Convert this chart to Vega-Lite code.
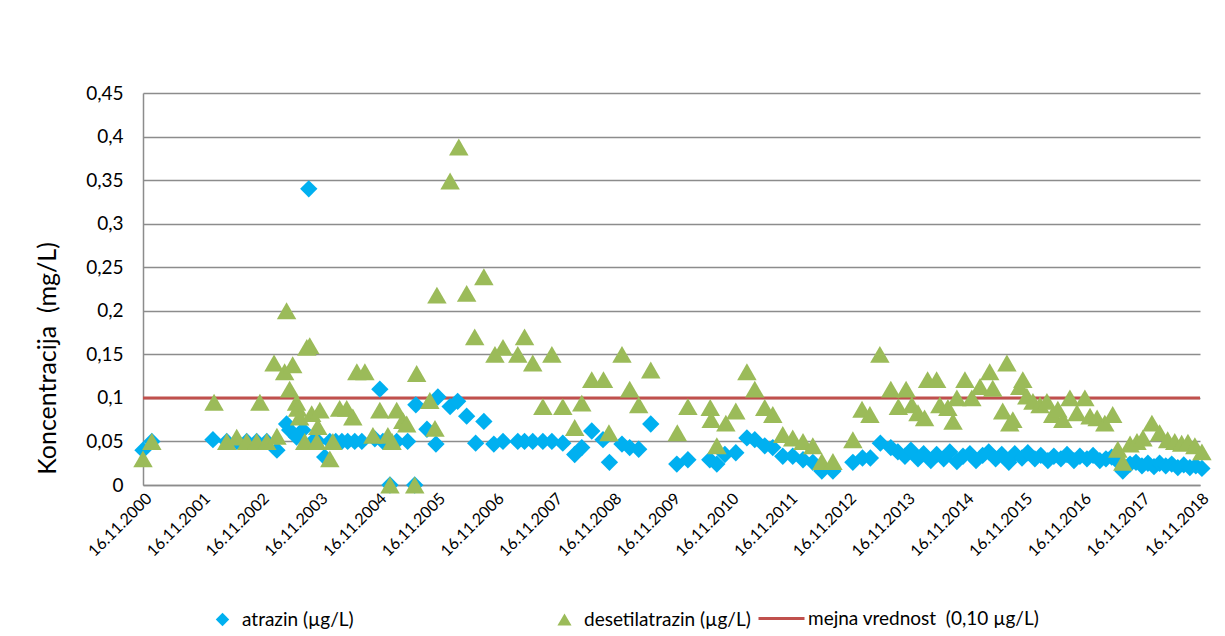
{
  "$schema": "https://vega.github.io/schema/vega-lite/v6.json",
  "width": 1057,
  "height": 392,
  "autosize": {"type": "none"},
  "padding": {"left": 143, "top": 93, "right": 25, "bottom": 151},
  "background": "white",
  "config": {"font": "Lato", "view": {"stroke": null}},
  "datasets": {
    "atrazin": [
      {"d":"2000-11-16","v":0.04},{"d":"2001-01-10","v":0.05},{"d":"2002-01-25","v":0.052},{"d":"2002-04-21","v":0.05},{"d":"2002-06-22","v":0.05},{"d":"2002-08-23","v":0.05},{"d":"2002-10-24","v":0.05},{"d":"2002-12-26","v":0.05},{"d":"2003-02-27","v":0.04},{"d":"2003-04-28","v":0.07},{"d":"2003-05-17","v":0.063},{"d":"2003-06-29","v":0.055},{"d":"2003-08-07","v":0.063},{"d":"2003-09-13","v":0.34},{"d":"2003-10-08","v":0.05},{"d":"2003-11-08","v":0.05},{"d":"2003-12-21","v":0.032},{"d":"2004-01-22","v":0.05},{"d":"2004-02-28","v":0.05},{"d":"2004-04-06","v":0.05},{"d":"2004-05-12","v":0.05},{"d":"2004-06-25","v":0.05},{"d":"2004-08-08","v":0.05},{"d":"2004-10-28","v":0.053},{"d":"2004-11-28","v":0.11},{"d":"2004-12-17","v":0.05},{"d":"2005-01-30","v":0.0},{"d":"2005-03-13","v":0.05},{"d":"2005-05-20","v":0.05},{"d":"2005-07-03","v":0.0},{"d":"2005-07-10","v":0.092},{"d":"2005-09-17","v":0.064},{"d":"2005-11-12","v":0.047},{"d":"2005-11-24","v":0.101},{"d":"2006-02-08","v":0.09},{"d":"2006-03-27","v":0.096},{"d":"2006-05-22","v":0.079},{"d":"2006-07-17","v":0.048},{"d":"2006-09-06","v":0.073},{"d":"2006-11-07","v":0.047},{"d":"2007-01-03","v":0.05},{"d":"2007-04-05","v":0.05},{"d":"2007-05-17","v":0.05},{"d":"2007-07-07","v":0.05},{"d":"2007-09-08","v":0.05},{"d":"2007-11-03","v":0.05},{"d":"2008-01-10","v":0.048},{"d":"2008-03-24","v":0.035},{"d":"2008-05-07","v":0.043},{"d":"2008-07-08","v":0.062},{"d":"2008-09-16","v":0.052},{"d":"2008-10-26","v":0.026},{"d":"2009-01-12","v":0.047},{"d":"2009-03-01","v":0.043},{"d":"2009-04-26","v":0.041},{"d":"2009-07-10","v":0.07},{"d":"2009-12-19","v":0.024},{"d":"2010-02-26","v":0.029},{"d":"2010-07-12","v":0.029},{"d":"2010-08-25","v":0.024},{"d":"2010-10-14","v":0.035},{"d":"2010-12-21","v":0.037},{"d":"2011-02-28","v":0.054},{"d":"2011-04-18","v":0.052},{"d":"2011-06-19","v":0.045},{"d":"2011-08-08","v":0.043},{"d":"2011-10-09","v":0.033},{"d":"2011-12-10","v":0.033},{"d":"2012-02-12","v":0.029},{"d":"2012-04-13","v":0.026},{"d":"2012-06-08","v":0.016},{"d":"2012-08-16","v":0.016},{"d":"2012-12-18","v":0.026},{"d":"2013-02-16","v":0.031},{"d":"2013-04-06","v":0.031},{"d":"2013-06-07","v":0.048},{"d":"2013-08-11","v":0.043},{"d":"2013-09-24","v":0.038},{"d":"2013-11-07","v":0.033},{"d":"2013-12-14","v":0.04},{"d":"2014-01-27","v":0.03},{"d":"2014-03-03","v":0.036},{"d":"2014-04-17","v":0.028},{"d":"2014-05-23","v":0.035},{"d":"2014-07-06","v":0.03},{"d":"2014-08-13","v":0.038},{"d":"2014-09-26","v":0.027},{"d":"2014-11-03","v":0.033},{"d":"2014-12-16","v":0.036},{"d":"2015-01-23","v":0.028},{"d":"2015-03-05","v":0.034},{"d":"2015-04-12","v":0.038},{"d":"2015-05-25","v":0.03},{"d":"2015-07-02","v":0.035},{"d":"2015-08-15","v":0.026},{"d":"2015-09-21","v":0.036},{"d":"2015-11-05","v":0.031},{"d":"2015-12-11","v":0.037},{"d":"2016-01-24","v":0.03},{"d":"2016-03-01","v":0.034},{"d":"2016-04-14","v":0.028},{"d":"2016-05-21","v":0.033},{"d":"2016-07-04","v":0.03},{"d":"2016-08-11","v":0.035},{"d":"2016-09-23","v":0.028},{"d":"2016-10-30","v":0.033},{"d":"2016-12-13","v":0.03},{"d":"2017-01-20","v":0.034},{"d":"2017-03-03","v":0.028},{"d":"2017-04-10","v":0.03},{"d":"2017-05-16","v":0.032},{"d":"2017-06-23","v":0.027},{"d":"2017-07-24","v":0.016},{"d":"2017-09-07","v":0.024},{"d":"2017-10-14","v":0.026},{"d":"2017-11-20","v":0.022},{"d":"2017-12-27","v":0.025},{"d":"2018-02-03","v":0.021},{"d":"2018-03-10","v":0.025},{"d":"2018-04-17","v":0.022},{"d":"2018-05-24","v":0.024},{"d":"2018-07-01","v":0.02},{"d":"2018-08-07","v":0.023},{"d":"2018-09-14","v":0.02},{"d":"2018-10-21","v":0.022},{"d":"2018-11-28","v":0.019}
    ],
    "desetil": [
      {"d":"2000-11-16","v":0.03},{"d":"2001-01-10","v":0.05},{"d":"2002-02-01","v":0.095},{"d":"2002-04-21","v":0.05},{"d":"2002-06-22","v":0.055},{"d":"2002-08-23","v":0.05},{"d":"2002-10-24","v":0.05},{"d":"2002-11-13","v":0.095},{"d":"2002-12-26","v":0.05},{"d":"2003-02-09","v":0.14},{"d":"2003-02-27","v":0.056},{"d":"2003-04-16","v":0.13},{"d":"2003-04-28","v":0.2},{"d":"2003-05-17","v":0.11},{"d":"2003-06-05","v":0.138},{"d":"2003-06-29","v":0.095},{"d":"2003-07-06","v":0.088},{"d":"2003-07-18","v":0.078},{"d":"2003-08-19","v":0.05},{"d":"2003-09-01","v":0.158},{"d":"2003-09-19","v":0.16},{"d":"2003-10-01","v":0.082},{"d":"2003-11-02","v":0.05},{"d":"2003-11-08","v":0.067},{"d":"2003-11-21","v":0.086},{"d":"2004-01-22","v":0.03},{"d":"2004-02-10","v":0.05},{"d":"2004-03-23","v":0.088},{"d":"2004-05-06","v":0.088},{"d":"2004-06-13","v":0.078},{"d":"2004-07-08","v":0.13},{"d":"2004-08-27","v":0.13},{"d":"2004-10-16","v":0.057},{"d":"2004-11-28","v":0.086},{"d":"2005-01-17","v":0.057},{"d":"2005-01-30","v":0.0},{"d":"2005-02-12","v":0.05},{"d":"2005-03-13","v":0.086},{"d":"2005-04-20","v":0.074},{"d":"2005-05-14","v":0.07},{"d":"2005-07-03","v":0.0},{"d":"2005-07-15","v":0.128},{"d":"2005-10-05","v":0.097},{"d":"2005-11-06","v":0.065},{"d":"2005-11-18","v":0.218},{"d":"2006-02-08","v":0.349},{"d":"2006-04-03","v":0.388},{"d":"2006-05-22","v":0.22},{"d":"2006-07-11","v":0.17},{"d":"2006-09-06","v":0.239},{"d":"2006-11-14","v":0.15},{"d":"2007-01-03","v":0.158},{"d":"2007-04-05","v":0.15},{"d":"2007-05-17","v":0.17},{"d":"2007-07-07","v":0.14},{"d":"2007-09-08","v":0.09},{"d":"2007-11-03","v":0.15},{"d":"2008-01-10","v":0.09},{"d":"2008-03-24","v":0.066},{"d":"2008-05-07","v":0.094},{"d":"2008-07-08","v":0.121},{"d":"2008-09-19","v":0.121},{"d":"2008-10-23","v":0.06},{"d":"2009-01-12","v":0.15},{"d":"2009-03-01","v":0.11},{"d":"2009-04-26","v":0.092},{"d":"2009-07-10","v":0.132},{"d":"2009-12-22","v":0.06},{"d":"2010-02-26","v":0.09},{"d":"2010-07-15","v":0.089},{"d":"2010-07-21","v":0.075},{"d":"2010-08-25","v":0.045},{"d":"2010-10-20","v":0.071},{"d":"2010-12-21","v":0.085},{"d":"2011-02-28","v":0.13},{"d":"2011-04-18","v":0.11},{"d":"2011-06-19","v":0.089},{"d":"2011-08-08","v":0.081},{"d":"2011-10-09","v":0.058},{"d":"2011-12-10","v":0.054},{"d":"2012-02-12","v":0.05},{"d":"2012-04-13","v":0.045},{"d":"2012-06-08","v":0.027},{"d":"2012-08-16","v":0.027},{"d":"2012-12-18","v":0.052},{"d":"2013-02-13","v":0.087},{"d":"2013-04-03","v":0.081},{"d":"2013-06-04","v":0.15},{"d":"2013-08-11","v":0.11},{"d":"2013-09-27","v":0.09},{"d":"2013-11-14","v":0.11},{"d":"2013-12-20","v":0.092},{"d":"2014-01-27","v":0.083},{"d":"2014-03-09","v":0.077},{"d":"2014-03-28","v":0.121},{"d":"2014-05-23","v":0.121},{"d":"2014-06-12","v":0.092},{"d":"2014-08-01","v":0.089},{"d":"2014-09-02","v":0.073},{"d":"2014-09-26","v":0.1},{"d":"2014-11-15","v":0.121},{"d":"2014-12-28","v":0.1},{"d":"2015-02-17","v":0.113},{"d":"2015-04-18","v":0.13},{"d":"2015-05-07","v":0.111},{"d":"2015-07-08","v":0.085},{"d":"2015-08-03","v":0.14},{"d":"2015-08-21","v":0.071},{"d":"2015-09-09","v":0.075},{"d":"2015-10-22","v":0.113},{"d":"2015-11-10","v":0.121},{"d":"2015-12-05","v":0.102},{"d":"2016-01-12","v":0.096},{"d":"2016-02-25","v":0.092},{"d":"2016-04-08","v":0.096},{"d":"2016-05-14","v":0.081},{"d":"2016-06-15","v":0.087},{"d":"2016-07-16","v":0.075},{"d":"2016-08-29","v":0.1},{"d":"2016-10-12","v":0.083},{"d":"2016-11-30","v":0.1},{"d":"2017-01-01","v":0.079},{"d":"2017-02-14","v":0.077},{"d":"2017-04-03","v":0.071},{"d":"2017-05-22","v":0.081},{"d":"2017-06-23","v":0.041},{"d":"2017-07-24","v":0.026},{"d":"2017-09-07","v":0.047},{"d":"2017-10-20","v":0.05},{"d":"2017-11-26","v":0.054},{"d":"2018-01-21","v":0.071},{"d":"2018-03-10","v":0.06},{"d":"2018-04-29","v":0.052},{"d":"2018-06-12","v":0.05},{"d":"2018-07-25","v":0.048},{"d":"2018-09-02","v":0.049},{"d":"2018-10-15","v":0.045},{"d":"2018-11-28","v":0.038}
    ]
  },
  "layer": [
    {
      "data": {"values": [{"series": "mejna vrednost \u00a0(0,10 µg/L)", "value": 0.1}]},
      "mark": {"type": "rule", "strokeWidth": 3},
      "encoding": {
        "y": {
          "field": "value", "type": "quantitative",
          "scale": {"domain": [0, 0.45], "nice": false, "zero": true},
          "axis": {
            "values": [0, 0.05, 0.1, 0.15, 0.2, 0.25, 0.3, 0.35, 0.4, 0.45],
            "labelExpr": "replace(format(datum.value, '.2~f'), '.', ',')",
            "grid": true, "gridColor": "#8c8c8c", "gridWidth": 1.5,
            "domainColor": "#8c8c8c", "domainWidth": 1.5,
            "ticks": false, "labelPadding": 20,
            "labelFontSize": 19, "labelColor": "#000000",
            "title": "Koncentracija \u00a0(mg/L)", "titleFontSize": 25, "titleFontWeight": "normal",
            "titleColor": "#000000", "titleAngle": 270, "titleX": -96, "titleY": 265,
            "titleAlign": "center", "titleBaseline": "middle"
          }
        },
        "color": {
          "field": "series", "type": "nominal",
          "scale": {"range": ["#C0504D"]},
          "legend": {
            "orient": "none", "legendX": 614, "legendY": 501, "title": null, "padding": 0,
            "symbolType": "stroke", "symbolSize": 2116, "symbolStrokeWidth": 3,
            "labelFontSize": 19, "labelColor": "#000000", "labelOffset": 2, "labelLimit": 500
          }
        }
      }
    },
    {
      "data": {"name": "atrazin"},
      "transform": [{"calculate": "'atrazin (µg/L)'", "as": "series"}],
      "mark": {"type": "point", "filled": true, "opacity": 1, "size": 300, "color": "#00B0F0", "strokeWidth": 0},
      "encoding": {
        "x": {
          "field": "d", "type": "temporal",
          "scale": {"type": "utc", "domain": [{"year": 2000, "month": 11, "date": 16, "utc": true}, {"year": 2018, "month": 11, "date": 16, "utc": true}]},
          "axis": {
            "values": [
              {"year": 2000, "month": 11, "date": 16, "utc": true},{"year": 2001, "month": 11, "date": 16, "utc": true},{"year": 2002, "month": 11, "date": 16, "utc": true},{"year": 2003, "month": 11, "date": 16, "utc": true},{"year": 2004, "month": 11, "date": 16, "utc": true},{"year": 2005, "month": 11, "date": 16, "utc": true},{"year": 2006, "month": 11, "date": 16, "utc": true},{"year": 2007, "month": 11, "date": 16, "utc": true},{"year": 2008, "month": 11, "date": 16, "utc": true},{"year": 2009, "month": 11, "date": 16, "utc": true},{"year": 2010, "month": 11, "date": 16, "utc": true},{"year": 2011, "month": 11, "date": 16, "utc": true},{"year": 2012, "month": 11, "date": 16, "utc": true},{"year": 2013, "month": 11, "date": 16, "utc": true},{"year": 2014, "month": 11, "date": 16, "utc": true},{"year": 2015, "month": 11, "date": 16, "utc": true},{"year": 2016, "month": 11, "date": 16, "utc": true},{"year": 2017, "month": 11, "date": 16, "utc": true},{"year": 2018, "month": 11, "date": 16, "utc": true}
            ],
            "format": "%d.%m.%Y", "labelAngle": -45, "labelFontSize": 16, "labelColor": "#000000",
            "labelOverlap": false, "labelPadding": 5, "ticks": false, "grid": false,
            "domainColor": "#8c8c8c", "domainWidth": 1.5, "title": null
          }
        },
        "y": {"field": "v", "type": "quantitative"},
        "shape": {
          "field": "series", "type": "nominal",
          "scale": {"range": ["diamond"]},
          "legend": {
            "orient": "none", "legendX": 70, "legendY": 517, "title": null, "padding": 0,
            "symbolSize": 180, "symbolFillColor": "#00B0F0", "symbolStrokeWidth": 0,
            "labelFontSize": 19, "labelColor": "#000000", "labelOffset": 10, "labelLimit": 500
          }
        }
      }
    },
    {
      "data": {"name": "desetil"},
      "transform": [{"calculate": "'desetilatrazin (µg/L)'", "as": "series"}],
      "mark": {"type": "point", "filled": true, "opacity": 1, "size": 380, "color": "#9BBB59", "strokeWidth": 0},
      "encoding": {
        "x": {"field": "d", "type": "temporal"},
        "y": {"field": "v", "type": "quantitative"},
        "shape": {
          "field": "series", "type": "nominal",
          "scale": {"range": ["triangle-up"]},
          "legend": {
            "orient": "none", "legendX": 412, "legendY": 517, "title": null, "padding": 0,
            "symbolSize": 200, "symbolFillColor": "#9BBB59", "symbolStrokeWidth": 0,
            "labelFontSize": 19, "labelColor": "#000000", "labelOffset": 10, "labelLimit": 500
          }
        }
      }
    }
  ],
  "resolve": {"scale": {"shape": "independent"}, "legend": {"shape": "independent"}}
}
